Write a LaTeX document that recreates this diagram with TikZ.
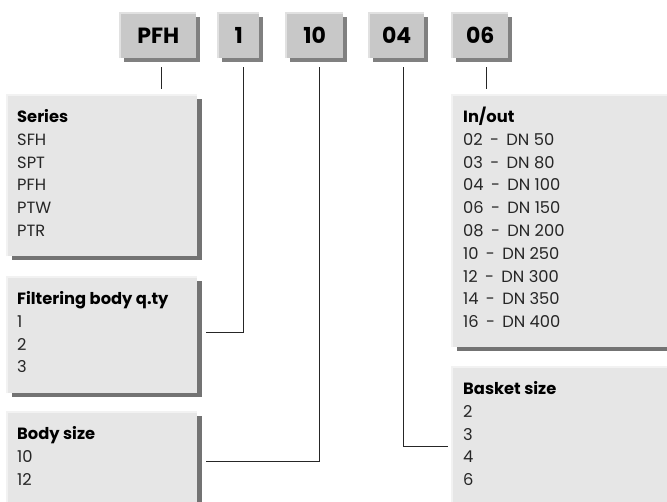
\documentclass[tikz,border=0pt]{standalone}
\usepackage{fontspec}
\setmainfont{Poppins}
\usetikzlibrary{shadows}
\definecolor{topfill}{RGB}{200,200,200}
\definecolor{lowfill}{RGB}{230,230,230}
\definecolor{shadowgray}{RGB}{128,128,128}
\definecolor{hlcol}{RGB}{242,242,242}
\definecolor{hltop}{RGB}{225,225,225}
\begin{document}
\begin{tikzpicture}[x=1pt,y=-1pt,
  codebox/.style={fill=topfill, draw=none, inner sep=0pt, anchor=north west,
    font=\fontsize{22}{26}\selectfont\bfseries,
    drop shadow={shadow xshift=4pt, shadow yshift=-4pt, fill=shadowgray, opacity=1}},
  listbox/.style={fill=lowfill, draw=none, inner sep=0pt, anchor=north west,
    drop shadow={shadow xshift=5pt, shadow yshift=-4pt, fill=shadowgray!110, opacity=1}},
  hltopline/.style={draw=hltop, line width=1.5pt},
  hlline/.style={draw=hlcol, line width=1.5pt},
  item/.style={anchor=base west, inner sep=0pt, font=\fontsize{16.3}{19}\selectfont, text=black!85},
  head/.style={item, font=\fontsize{16.3}{19}\selectfont\bfseries, text=black},
  conn/.style={draw=black!85, line width=0.9pt}]
\useasboundingbox (0,0) rectangle (667,502);
\clip (0,0) rectangle (667,502);

% top code boxes
\node[codebox, minimum width=76pt, minimum height=45pt] (pfh) at (120,13) {PFH};
\node[codebox, minimum width=41pt, minimum height=45pt] (one) at (218,13) {1};
\node[codebox, minimum width=57pt, minimum height=45pt] (ten) at (286,13) {10};
\node[codebox, minimum width=55pt, minimum height=45pt] (four) at (369,13) {04};
\node[codebox, minimum width=56pt, minimum height=45pt] (six) at (452,13) {06};
\foreach \n in {pfh,one,ten,four,six}
  \draw[hltopline] (\n.south west) |- (\n.north east);

% lower boxes
\node[listbox, minimum width=190pt, minimum height=161pt] (series) at (7,95) {};
\node[listbox, minimum width=190pt, minimum height=116pt] (filt) at (7,277) {};
\node[listbox, minimum width=190pt, minimum height=120pt] (body) at (7,412) {};
\node[listbox, minimum width=240pt, minimum height=252pt] (inout) at (452,95) {};
\node[listbox, minimum width=240pt, minimum height=160pt] (basket) at (452,367) {};
\foreach \n in {series,filt,body,inout,basket}
  \draw[hlline] (\n.south west) |- (\n.north east);

% texts
\node[head] (serh) at (17,122.5) {Series};
\foreach \t [count=\i] in {SFH,SPT,PFH,PTW,PTR}
  \node[item] (ser\i) at (17,{122.5+22.8*\i}) {\t};

\node[head] (filh) at (17,304.5) {Filtering body q.ty};
\foreach \t [count=\i] in {1,2,3}
  \node[item] (fil\i) at (17,{304.5+22.8*\i}) {\t};

\node[head] (bodh) at (17,439.5) {Body size};
\foreach \t [count=\i] in {10,12}
  \node[item] (bod\i) at (17,{439.5+22.8*\i}) {\t};

\node[head] (ioh) at (463,122.5) {In/out};
\foreach \a/\b [count=\i] in {02/50,03/80,04/100,06/150,08/200,10/250,12/300,14/350,16/400}
  \node[item] (io\i) at (463,{122.5+22.8*\i}) {\a\hspace{0.45em}-\hspace{0.45em}DN \b};

\node[head] (bash) at (463,394.5) {Basket size};
\foreach \t [count=\i] in {2,3,4,6}
  \node[item] (bas\i) at (463,{394.5+22.8*\i}) {\t};

% connectors
\draw[conn] ([xshift=3pt,yshift=-9pt]pfh.south) -- ([xshift=3pt,yshift=6pt]pfh.south |- series.north);
\draw[conn] ([xshift=6pt,yshift=-9pt]six.south) -- ([xshift=6pt,yshift=6pt]six.south |- inout.north);
\draw[conn] ([xshift=4.5pt,yshift=-9pt]one.south) |- ([xshift=9pt,yshift=3pt]filt.east);
\draw[conn] ([xshift=4.5pt,yshift=-9pt]ten.south) |- ([xshift=9pt,yshift=-49pt]body.north east);
\draw[conn] ([xshift=6.5pt,yshift=-9pt]four.south) |- ([xshift=-4pt,yshift=-79pt]basket.north west);
\end{tikzpicture}
\end{document}
